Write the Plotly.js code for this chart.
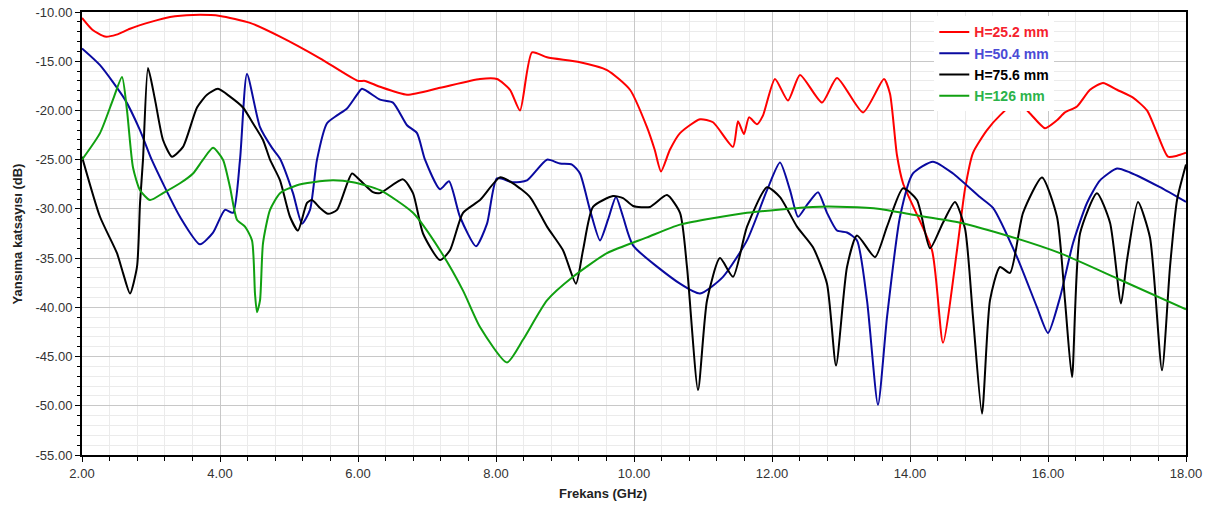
<!DOCTYPE html>
<html>
<head>
<meta charset="utf-8">
<script src="https://cdn.plot.ly/plotly-3.0.1.min.js"></script>
<style>
html,body{margin:0;padding:0;background:#fff;}
#chart{width:1206px;height:507px;}
</style>
</head>
<body>
<div id="chart"></div>
<script>
// Frequency (GHz) and reflection coefficient (dB) for each series
const redFreq = [2.0,2.15,2.333,2.5,2.696,3.0,3.275,3.609,4.0,4.435,4.87,5.449,6.0,6.101,6.319,6.71,7.188,7.768,8.014,8.203,8.348,8.522,8.739,9.217,9.609,9.942,10.188,10.3,10.391,10.52,10.667,10.957,11.145,11.435,11.507,11.594,11.667,11.783,11.87,12.043,12.232,12.406,12.725,12.942,13.319,13.623,13.71,13.81,13.899,14.319,14.478,14.681,14.797,14.913,15.116,15.304,15.551,15.739,15.957,16.13,16.246,16.42,16.609,16.797,17.0,17.232,17.435,17.58,17.739,17.87,18.0];
const redDb   = [-10.6,-11.8,-12.5,-12.3,-11.7,-11.0,-10.5,-10.3,-10.4,-11.1,-12.5,-14.7,-17.0,-17.0,-17.6,-18.4,-17.7,-16.8,-16.8,-17.9,-20.0,-14.1,-14.6,-15.1,-15.9,-17.9,-21.7,-24.0,-26.2,-24.0,-22.3,-20.9,-21.2,-23.7,-21.1,-22.4,-20.7,-21.4,-20.5,-16.8,-19.0,-16.4,-19.2,-16.7,-20.2,-16.8,-18.3,-24.5,-27.4,-34.2,-43.6,-34.2,-28.0,-24.3,-22.0,-20.5,-19.1,-20.3,-21.8,-21.0,-20.2,-19.6,-17.9,-17.2,-17.9,-18.7,-20.0,-22.3,-24.7,-24.6,-24.3];

const blueFreq = [2.0,2.261,2.623,2.84,3.01,3.42,3.71,3.899,4.072,4.188,4.29,4.391,4.58,4.754,4.87,5.058,5.188,5.304,5.406,5.551,5.696,5.841,5.986,6.058,6.319,6.507,6.71,6.855,6.971,7.188,7.319,7.478,7.71,7.87,8.014,8.246,8.449,8.739,8.928,9.101,9.217,9.362,9.507,9.623,9.739,9.841,9.986,10.667,10.957,11.29,11.638,11.928,12.116,12.261,12.377,12.507,12.667,12.797,12.942,13.087,13.232,13.377,13.536,13.667,13.855,14.043,14.333,14.623,15.014,15.203,15.551,15.841,16.0,16.174,16.362,16.565,16.754,17.0,17.188,17.623,18.0];
const blueDb   = [-13.7,-15.4,-18.9,-22.0,-25.0,-30.8,-33.6,-32.4,-30.1,-30.4,-25.0,-16.3,-21.7,-23.8,-24.9,-28.4,-31.5,-30.1,-25.0,-21.3,-20.5,-19.8,-18.4,-17.8,-18.9,-19.2,-21.5,-22.3,-25.0,-28.0,-27.2,-30.8,-33.8,-31.5,-26.9,-27.3,-27.1,-25.0,-25.4,-25.5,-26.4,-30.1,-33.2,-31.1,-28.8,-30.8,-33.7,-37.6,-38.6,-36.9,-33.2,-28.1,-25.3,-28.1,-30.8,-29.6,-28.3,-30.4,-32.2,-32.4,-33.2,-39.3,-49.9,-41.0,-30.8,-26.4,-25.2,-26.4,-28.8,-29.9,-34.9,-40.0,-42.6,-39.0,-33.5,-29.4,-27.1,-25.9,-26.3,-27.8,-29.3];

const blackFreq = [2.0,2.261,2.507,2.594,2.696,2.797,2.841,2.884,2.957,3.058,3.174,3.304,3.464,3.667,3.812,3.971,4.145,4.333,4.478,4.623,4.725,4.87,5.014,5.13,5.261,5.333,5.449,5.565,5.696,5.913,6.029,6.217,6.319,6.652,6.797,6.942,7.188,7.333,7.522,7.768,8.058,8.246,8.493,8.739,8.971,9.159,9.261,9.406,9.696,9.841,9.986,10.232,10.478,10.667,10.768,10.928,11.058,11.246,11.435,11.638,11.928,12.116,12.362,12.594,12.797,12.928,13.087,13.232,13.493,13.667,13.899,14.101,14.29,14.478,14.652,14.797,14.913,15.043,15.159,15.304,15.449,15.638,15.913,16.13,16.246,16.348,16.464,16.71,16.899,17.058,17.145,17.304,17.478,17.652,17.768,17.87,18.0];
const blackDb   = [-24.7,-30.8,-34.5,-36.5,-38.6,-35.9,-29.4,-25.0,-15.7,-18.9,-23.0,-24.7,-23.7,-19.7,-18.4,-17.8,-18.6,-19.7,-21.3,-23.0,-25.0,-27.1,-30.8,-32.2,-29.4,-29.1,-29.9,-30.5,-30.1,-26.4,-27.1,-28.3,-28.4,-27.0,-28.4,-32.5,-35.2,-34.2,-30.4,-29.1,-26.8,-27.4,-28.8,-31.8,-34.2,-37.6,-34.2,-29.8,-28.7,-28.9,-29.7,-29.8,-28.6,-30.4,-35.9,-48.4,-39.3,-35.0,-36.9,-31.8,-27.8,-28.8,-31.8,-33.9,-37.6,-45.9,-35.9,-32.7,-34.9,-31.8,-27.9,-29.1,-34.0,-31.4,-29.3,-32.0,-41.0,-50.8,-39.3,-35.9,-36.5,-30.4,-26.8,-30.8,-39.3,-47.1,-32.5,-28.4,-31.4,-39.6,-35.2,-29.3,-32.9,-46.4,-35.9,-29.1,-25.5];

const greenFreq = [2.0,2.261,2.449,2.58,2.652,2.739,2.841,2.986,3.174,3.42,3.609,3.754,3.899,4.043,4.145,4.246,4.362,4.464,4.507,4.536,4.58,4.623,4.725,4.87,5.116,5.348,5.638,5.928,6.319,6.797,7.188,7.522,7.768,8.159,8.391,8.739,9.116,9.609,10.188,10.667,11.638,12.594,13.087,13.565,14.043,14.725,15.449,16.174,17.043,18.0];
const greenDb   = [-25.0,-22.3,-18.9,-16.6,-20.0,-25.8,-28.1,-29.1,-28.4,-27.4,-26.4,-25.0,-23.8,-25.0,-27.8,-31.1,-31.8,-33.2,-38.6,-40.5,-39.3,-33.5,-30.1,-28.4,-27.6,-27.3,-27.1,-27.3,-28.1,-30.4,-34.2,-38.3,-42.0,-45.6,-43.3,-39.3,-36.9,-34.5,-32.9,-31.6,-30.4,-29.8,-29.8,-30.0,-30.6,-31.4,-32.8,-34.5,-37.2,-40.2];

const seriesNames = ['H=25.2 mm','H=50.4 mm','H=75.6 mm','H=126 mm'];
const xTicks = [2,4,6,8,10,12,14,16,18];
const yTicks = [-55,-50,-45,-40,-35,-30,-25,-20,-15,-10];

const lineColors = ['#ff0000','#0a0aa0','#000000','#10a010'];
const textColors = ['#f5222d','#4b4bd6','#000000','#2bb34a'];
const xs = [redFreq, blueFreq, blackFreq, greenFreq];
const ys = [redDb, blueDb, blackDb, greenDb];

const traces = xs.map((x, i) => ({
  x: x, y: ys[i], type: 'scatter', mode: 'lines',
  name: '<span style="color:' + textColors[i] + '"><b>' + seriesNames[i] + '</b></span>',
  line: {color: lineColors[i], width: 2, shape: 'spline', smoothing: 0.6}
}));

const font = "'Liberation Sans', Arial, sans-serif";
const layout = {
  width: 1206, height: 507,
  margin: {l: 82, r: 20, t: 12, b: 52},
  paper_bgcolor: '#ffffff', plot_bgcolor: '#ffffff',
  font: {family: font, size: 13, color: '#333333'},
  showlegend: true,
  legend: {
    x: 0.772, y: 0.99, xanchor: 'left', yanchor: 'top',
    bgcolor: '#ffffff', borderwidth: 0,
    font: {family: font, size: 14},
    tracegroupgap: 0, itemwidth: 30
  },
  xaxis: {
    range: [2, 18], tickvals: xTicks, ticktext: xTicks.map(v => v.toFixed(2)),
    showline: true, linecolor: '#000', linewidth: 2, mirror: true,
    ticks: 'outside', ticklen: 5, tickcolor: '#000',
    showgrid: true, gridcolor: '#c8c8c8', gridwidth: 1,
    zeroline: false,
    minor: {dtick: 0.4, showgrid: true, gridcolor: '#ebebeb', ticks: 'outside', ticklen: 4, tickcolor: '#000'},
    tickfont: {family: font, size: 13, color: '#333'}
  },
  yaxis: {
    range: [-55, -10], tickvals: yTicks, ticktext: yTicks.map(v => v.toFixed(2)),
    showline: true, linecolor: '#000', linewidth: 2, mirror: true,
    ticks: 'outside', ticklen: 5, tickcolor: '#000',
    showgrid: true, gridcolor: '#c8c8c8', gridwidth: 1,
    zeroline: false,
    minor: {dtick: 1, showgrid: true, gridcolor: '#ebebeb', ticks: 'outside', ticklen: 3, tickcolor: '#000'},
    tickfont: {family: font, size: 13, color: '#333'}
  },
  annotations: [
    {text: '<b>Frekans (GHz)</b>', xref: 'paper', yref: 'paper', x: 0.472, y: -0.086, xanchor: 'center', yanchor: 'middle', showarrow: false, font: {family: font, size: 13, color: '#222'}},
    {text: '<b>Yansıma katsayısı (dB)</b>', xref: 'paper', yref: 'paper', x: -0.058, y: 0.5, xanchor: 'center', yanchor: 'middle', textangle: -90, showarrow: false, font: {family: font, size: 13, color: '#222'}}
  ]
};

Plotly.newPlot('chart', traces, layout, {displayModeBar: false, staticPlot: true});
</script>
</body>
</html>
